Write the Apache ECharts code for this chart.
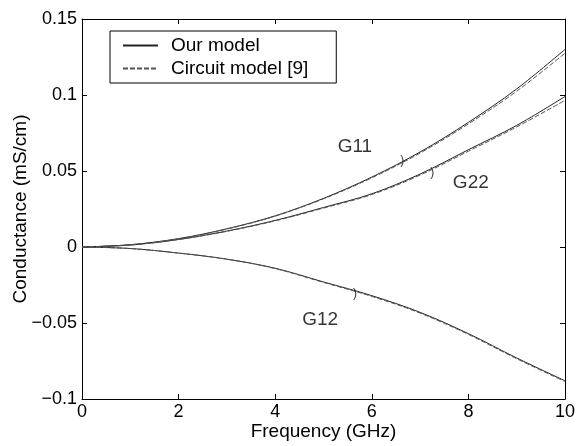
<!DOCTYPE html>
<html>
<head>
<meta charset="utf-8">
<script src="https://cdn.jsdelivr.net/npm/echarts@6/dist/echarts.min.js"></script>
<style>html,body{margin:0;padding:0;background:#fff;}#c{width:576px;height:446px;}</style>
</head>
<body>
<div id="c"></div>
<script>
var freq = [0, 1, 2, 3, 4, 5, 6, 7, 8, 9, 10];
var g11Our = [0, 0.0015, 0.0055, 0.012, 0.0205, 0.032, 0.046, 0.0625, 0.082, 0.104, 0.130];
var g11Circ = [0, 0.0015, 0.0054, 0.0118, 0.0203, 0.0317, 0.0455, 0.0618, 0.081, 0.1025, 0.1275];
var g22Our = [0, 0.0013, 0.005, 0.0105, 0.0175, 0.026, 0.035, 0.048, 0.064, 0.080, 0.099];
var g22Circ = [0, 0.0013, 0.0049, 0.0103, 0.0172, 0.0256, 0.0345, 0.0473, 0.063, 0.079, 0.0965];
var g12Our = [0, -0.001, -0.004, -0.008, -0.014, -0.023, -0.032, -0.043, -0.057, -0.073, -0.088];
var g12Circ = [0, -0.001, -0.004, -0.008, -0.0142, -0.0233, -0.0325, -0.0435, -0.0575, -0.0735, -0.0885];
var xTicks = [0, 2, 4, 6, 8, 10];
var yTicks = [-0.1, -0.05, 0, 0.05, 0.1, 0.15];
var curveLabels = [
  {name: 'G11', x: 5.65, y: 0.066},
  {name: 'G22', x: 8.05, y: 0.042},
  {name: 'G12', x: 4.93, y: -0.048}
];
var leaderMarks = [
  {x: 6.63, y: 0.057},
  {x: 7.25, y: 0.049},
  {x: 5.65, y: -0.031}
];

function pairs(ys) { return freq.map(function (f, i) { return [f, ys[i]]; }); }

var FONT = 'Liberation Sans';
var chart = echarts.init(document.getElementById('c'));

function lineSeries(name, ys, dashed) {
  return {
    type: 'line', name: name, data: pairs(ys), symbol: 'none', smooth: 0.35,
    lineStyle: {color: dashed ? '#555' : '#222', width: 1, type: dashed ? [5, 2] : 'solid'},
    itemStyle: {color: dashed ? '#555' : '#222'},
    z: dashed ? 3 : 2
  };
}

var series = [
  lineSeries('Our model', g11Our, false),
  lineSeries('Circuit model [9]', g11Circ, true),
  lineSeries('Our model', g22Our, false),
  lineSeries('Circuit model [9]', g22Circ, true),
  lineSeries('Our model', g12Our, false),
  lineSeries('Circuit model [9]', g12Circ, true)
];
series.push({
  type: 'scatter', name: 'labels', symbolSize: 0, silent: true,
  data: curveLabels.map(function (d) { return {value: [d.x, d.y], name: d.name}; }),
  label: {show: true, position: 'inside', formatter: '{b}', color: '#000', fontFamily: FONT, fontSize: 19}
});
series.push({
  type: 'scatter', name: 'marks', symbolSize: 0, silent: true,
  data: leaderMarks.map(function (d) { return [d.x, d.y]; }),
  label: {show: true, position: 'inside', formatter: ')', color: '#000', fontFamily: FONT, fontSize: 12}
});

var axisCommon = {
  axisLine: {show: true, onZero: false, lineStyle: {color: '#000', width: 1}},
  axisTick: {show: true, inside: true, length: 5, lineStyle: {color: '#000'}},
  splitLine: {show: false}
};

chart.setOption({
  animation: false,
  backgroundColor: '#fff',
  grid: {left: 82, right: 11, top: 19, bottom: 47, containLabel: false, outerBoundsMode: 'none'},
  legend: {
    data: ['Our model', 'Circuit model [9]'],
    orient: 'vertical', left: 110, top: 31,
    backgroundColor: '#fff', borderColor: '#000', borderWidth: 1, borderRadius: 0,
    padding: [5, 28, 5, 12], itemGap: 4, itemWidth: 35, itemHeight: 19,
    itemStyle: {opacity: 0},
    textStyle: {fontFamily: FONT, fontSize: 19, color: '#000', padding: [0, 0, 0, 8]}
  },
  xAxis: [
    Object.assign({type: 'value', min: 0, max: 10, interval: 2, position: 'bottom',
      name: 'Frequency (GHz)', nameLocation: 'middle', nameGap: 23, nameMoveOverlap: false,
      nameTextStyle: {fontFamily: FONT, fontSize: 19, color: '#000'},
      axisLabel: {fontFamily: FONT, fontSize: 18, color: '#000', margin: 4,
        formatter: function (v) { return xTicks.indexOf(v) >= 0 ? String(v) : ''; }}}, axisCommon),
    Object.assign({type: 'value', min: 0, max: 10, interval: 2, position: 'top', axisLabel: {show: false}}, axisCommon)
  ],
  yAxis: [
    Object.assign({type: 'value', min: -0.1, max: 0.15, interval: 0.05, position: 'left',
      name: 'Conductance (mS/cm)', nameLocation: 'middle', nameGap: 52, nameMoveOverlap: false,
      nameTextStyle: {fontFamily: FONT, fontSize: 19, color: '#000'},
      axisLabel: {fontFamily: FONT, fontSize: 18, color: '#000', margin: 5,
        formatter: function (v) {
          var r = Math.round(v * 100) / 100;
          var s = r === 0 ? '0' : String(r);
          return s.replace('-', '\u2212');
        }}}, axisCommon),
    Object.assign({type: 'value', min: -0.1, max: 0.15, interval: 0.05, position: 'right', axisLabel: {show: false}}, axisCommon)
  ],
  series: series
});
</script>
</body>
</html>
